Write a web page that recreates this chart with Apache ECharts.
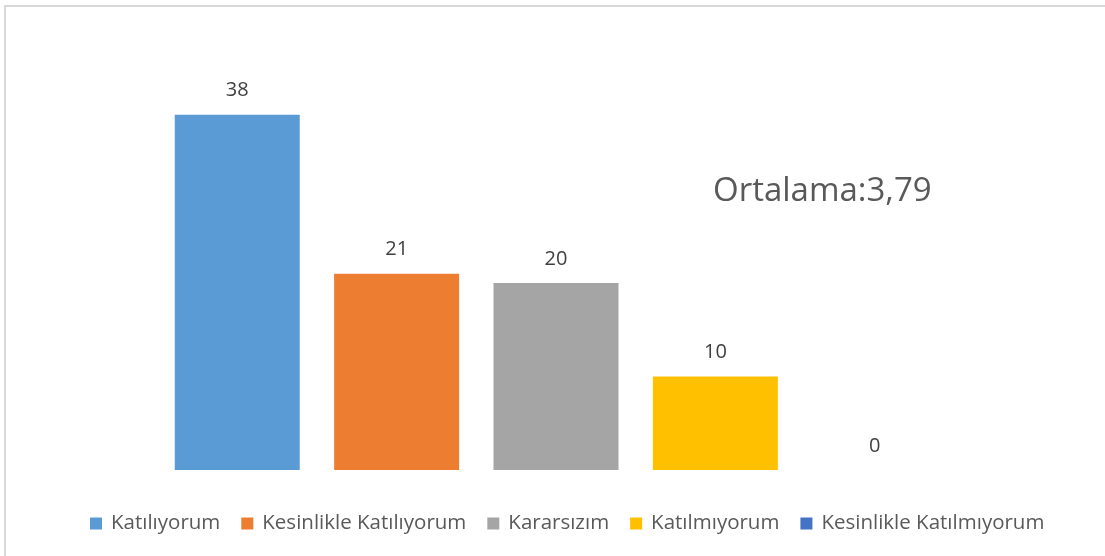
<!DOCTYPE html>
<html>
<head>
    <meta charset="utf-8">
    <title>Ortalama</title>
    <script src="https://cdn.jsdelivr.net/npm/echarts@6/dist/echarts.min.js"></script>
    <style>
        html, body { margin: 0; padding: 0; background: #fff; }
        #frame {
            position: absolute; left: 4px; top: 5px; width: 1110px; height: 560px;
            border-left: 2px solid #d9d9d9; border-top: 2px solid #d9d9d9;
        }
        #main { position: absolute; left: 0; top: 0; width: 1105px; height: 556px; }
    </style>
</head>
<body>
<div id="frame"></div>
<div id="main"></div>
<script>
    // veriler
    var seriesNames = ['Katılıyorum', 'Kesinlikle Katılıyorum', 'Kararsızım', 'Katılmıyorum', 'Kesinlikle Katılmıyorum'];
    var seriesValues = [38, 21, 20, 10, 0];
    var seriesColors = ['#5b9bd5', '#ed7d31', '#a5a5a5', '#ffc000', '#4472c4'];
    var averageText = 'Ortalama:3,79';

    var myChart = echarts.init(document.getElementById('main'));

    var series = seriesNames.map(function (name, i) {
        return {
            name: name,
            type: 'bar',
            data: [seriesValues[i]],
            barWidth: 125,
            barGap: '27.5%',
            itemStyle: { color: seriesColors[i] },
            label: {
                show: true,
                position: 'top',
                distance: 14,
                fontSize: 20,
                color: '#404040',
                fontFamily: 'Open Sans'
            }
        };
    });

    var option = {
        animation: false,
        grid: { left: 100, right: 93, top: 96, bottom: 86 },
        xAxis: {
            type: 'category',
            data: [''],
            axisLine: { show: false },
            axisTick: { show: false },
            axisLabel: { show: false }
        },
        yAxis: {
            type: 'value',
            min: 0,
            max: 40,
            show: false,
            splitLine: { show: false }
        },
        legend: {
            bottom: 17,
            left: 85,
            itemWidth: 12,
            itemHeight: 12,
            itemGap: 21,
            icon: 'rect',
            textStyle: { fontSize: 20.5, color: '#595959', fontFamily: 'Open Sans', padding: [0, 0, 0, 4] },
            data: seriesNames
        },
        graphic: [{
            type: 'text',
            left: 713,
            top: 175,
            style: {
                text: averageText,
                fontSize: 33,
                fill: '#595959',
                fontFamily: 'Open Sans'
            }
        }],
        series: series
    };

    myChart.setOption(option);
</script>
</body>
</html>
